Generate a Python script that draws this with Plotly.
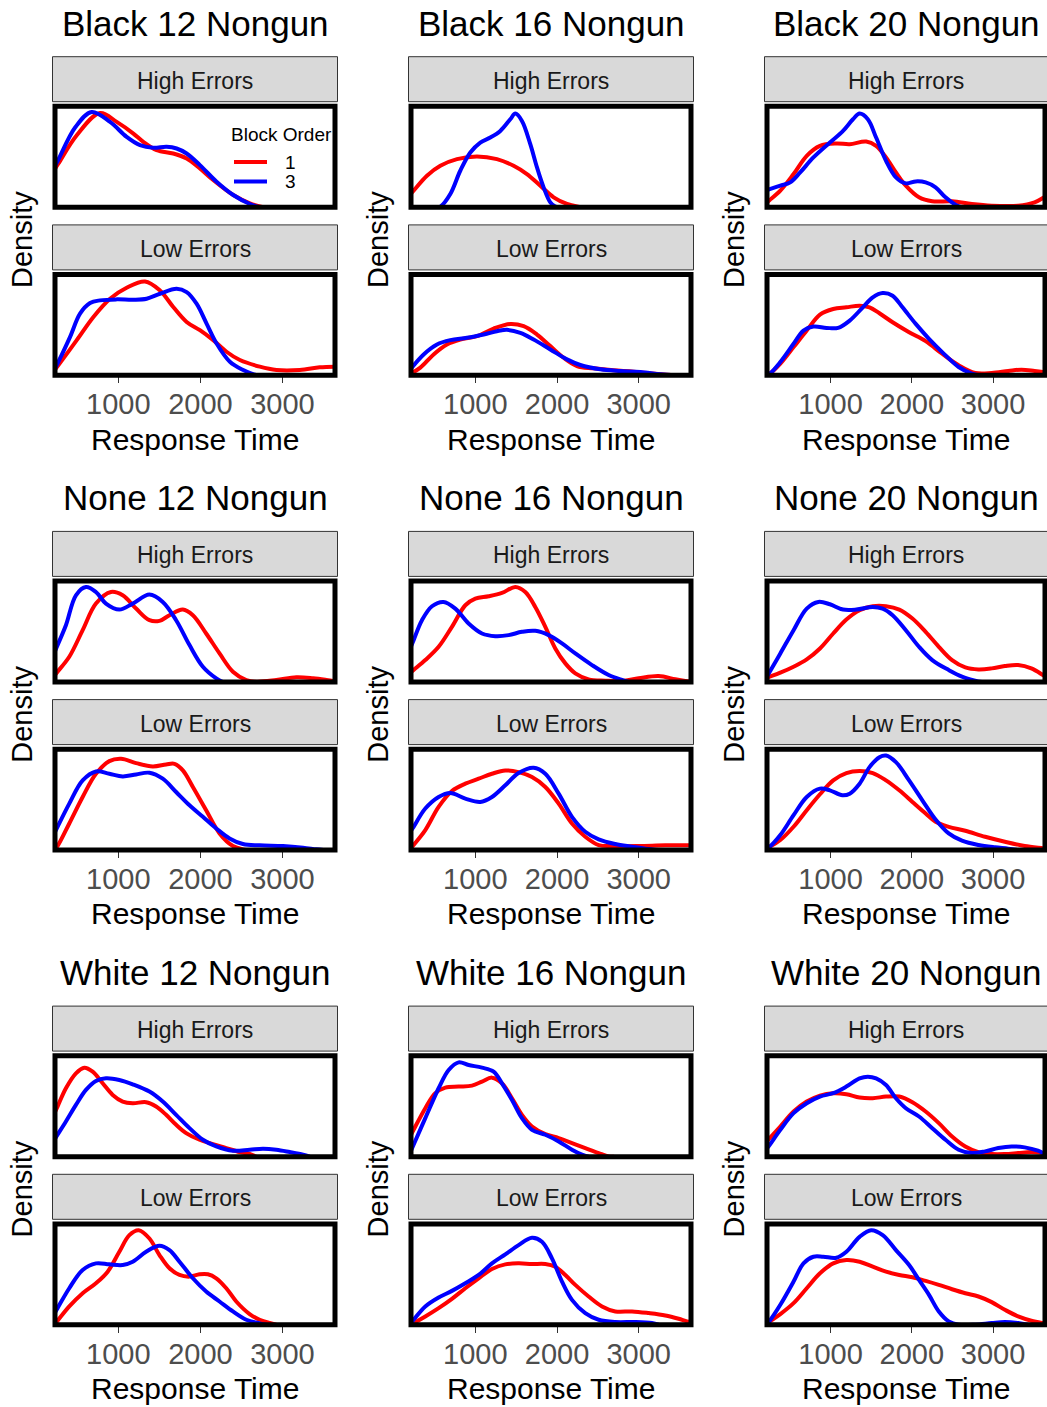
import plotly.graph_objects as go

# ---------------- data (response time in ms, relative density, arbitrary units) ----------------
RACES = ["Black", "None", "White"]
SIZES = [12, 16, 20]
FACETS = ["High Errors", "Low Errors"]
ORDERS = ["1", "3"]
TICK_VALS = [1000, 2000, 3000]
TICK_TEXT = ["1000", "2000", "3000"]
X_MIN = [228, 213, 218]      # per column (set size) x-axis lower limit
X_MAX = [3640, 3640, 3640]
Y_MAX = 304

# Black 12
B12_HI_1_RT = [235, 270, 493, 777, 980, 1183, 1304, 1467, 1669, 1832, 1994, 2156, 2400, 2603, 2765]
B12_HI_1_D = [119, 132, 217, 284, 257, 222, 197, 172, 162, 147, 117, 82, 37, 12, 0]
B12_HI_3_RT = [235, 270, 473, 675, 899, 1101, 1264, 1426, 1588, 1710, 1832, 1994, 2197, 2400, 2603, 2724]
B12_HI_3_D = [128, 144, 240, 287, 257, 212, 187, 179, 182, 177, 162, 127, 77, 37, 10, 0]
B12_LO_1_RT = [228, 270, 493, 696, 899, 1101, 1325, 1507, 1669, 1832, 1994, 2156, 2318, 2481, 2724, 2927, 3211, 3454, 3640]
B12_LO_1_D = [17, 31, 106, 176, 231, 264, 283, 256, 206, 161, 136, 106, 71, 46, 26, 16, 16, 24, 26]
B12_LO_3_RT = [228, 270, 412, 533, 655, 777, 980, 1183, 1345, 1507, 1710, 1832, 1953, 2075, 2197, 2359, 2521, 2684]
B12_LO_3_D = [20, 41, 116, 186, 218, 226, 229, 228, 231, 246, 261, 251, 216, 156, 96, 41, 16, 0]

# Black 16
B16_HI_1_RT = [212, 245, 408, 572, 776, 1020, 1265, 1469, 1632, 1796, 1959, 2122, 2204, 2285]
B16_HI_1_D = [41, 50, 95, 125, 145, 153, 145, 125, 100, 65, 30, 10, 5, 0]
B16_HI_3_RT = [212, 531, 572, 694, 816, 939, 1061, 1184, 1306, 1428, 1490, 1571, 1673, 1755, 1836, 1918, 1979, 2020]
B16_HI_3_D = [0, 0, 2, 40, 110, 165, 195, 210, 230, 265, 282, 260, 190, 120, 60, 15, 2, 0]
B16_LO_1_RT = [212, 327, 490, 653, 816, 1020, 1224, 1428, 1592, 1755, 1918, 2081, 2244, 2448, 2693, 2938, 3264, 3450]
B16_LO_1_D = [5, 23, 63, 93, 108, 118, 141, 155, 148, 123, 88, 53, 28, 21, 15, 11, 3, 0]
B16_LO_3_RT = [212, 368, 531, 694, 898, 1102, 1306, 1388, 1551, 1714, 1918, 2122, 2285, 2530, 2775, 3020, 3264, 3450]
B16_LO_3_D = [20, 63, 93, 106, 113, 123, 135, 137, 128, 108, 78, 48, 31, 18, 13, 10, 3, 0]

# Black 20
B20_HI_1_RT = [216, 252, 382, 545, 707, 870, 1073, 1236, 1439, 1561, 1683, 1805, 1927, 2089, 2252, 2496, 2740, 2984, 3309, 3512, 3614, 3640]
B20_HI_1_D = [15, 22, 50, 100, 155, 185, 192, 190, 198, 185, 150, 105, 65, 30, 18, 18, 10, 5, 5, 15, 28, 32]
B20_HI_3_RT = [216, 252, 382, 504, 626, 789, 992, 1154, 1276, 1358, 1459, 1561, 1683, 1805, 1927, 2049, 2171, 2293, 2415, 2537, 2618]
B20_HI_3_D = [52, 55, 65, 75, 105, 150, 195, 230, 265, 282, 265, 210, 140, 90, 72, 78, 75, 60, 30, 8, 0]
B20_LO_1_RT = [216, 252, 382, 545, 707, 870, 1033, 1195, 1358, 1480, 1602, 1764, 1967, 2171, 2374, 2577, 2781, 2984, 3187, 3350, 3512, 3640]
B20_LO_1_D = [2, 5, 35, 85, 135, 183, 200, 205, 210, 205, 187, 160, 130, 103, 65, 30, 7, 7, 13, 17, 13, 9]
B20_LO_3_RT = [216, 252, 382, 545, 667, 789, 951, 1093, 1236, 1398, 1520, 1642, 1764, 1886, 2049, 2212, 2374, 2577, 2740, 2821]
B20_LO_3_D = [2, 5, 40, 95, 135, 147, 143, 143, 165, 205, 235, 248, 240, 205, 155, 110, 70, 25, 5, 0]

# None 12
N12_HI_1_RT = [221, 259, 402, 565, 727, 910, 1053, 1216, 1379, 1501, 1623, 1786, 1908, 2070, 2233, 2396, 2559, 2681, 2925, 3169, 3373, 3536, 3640]
N12_HI_1_D = [19, 31, 76, 156, 236, 271, 261, 221, 186, 184, 201, 218, 201, 146, 86, 31, 6, 1, 6, 14, 11, 6, 2]
N12_HI_3_RT = [221, 259, 361, 483, 605, 727, 849, 1012, 1175, 1379, 1541, 1704, 1867, 2030, 2193, 2274]
N12_HI_3_D = [89, 111, 171, 261, 286, 271, 236, 218, 236, 263, 241, 186, 111, 46, 11, 0]
N12_LO_1_RT = [221, 259, 402, 565, 727, 890, 1033, 1216, 1419, 1582, 1684, 1786, 1908, 2070, 2233, 2396, 2518, 2600]
N12_LO_1_D = [2, 12, 80, 160, 230, 268, 275, 262, 252, 258, 260, 240, 190, 120, 50, 12, 2, 0]
N12_LO_3_RT = [221, 259, 402, 565, 727, 890, 1053, 1216, 1379, 1541, 1704, 1867, 2030, 2193, 2355, 2518, 2722, 3006, 3251, 3414, 3500]
N12_LO_3_D = [51, 70, 140, 210, 237, 230, 222, 228, 233, 215, 175, 135, 100, 65, 35, 18, 14, 12, 7, 2, 0]

# None 16
N16_HI_1_RT = [213, 245, 388, 551, 714, 878, 1000, 1163, 1326, 1490, 1612, 1734, 1857, 1979, 2102, 2224, 2387, 2591, 2795, 2999, 3244, 3448, 3570, 3640]
N16_HI_1_D = [29, 36, 66, 106, 166, 231, 251, 258, 268, 286, 271, 226, 166, 101, 56, 26, 8, 4, 3, 11, 18, 8, 3, 1]
N16_HI_3_RT = [213, 245, 347, 470, 612, 755, 918, 1082, 1245, 1408, 1571, 1734, 1898, 2061, 2224, 2428, 2632, 2795, 2877]
N16_HI_3_D = [107, 126, 186, 228, 241, 221, 176, 146, 138, 141, 151, 154, 141, 116, 86, 51, 21, 6, 0]
N16_LO_1_RT = [213, 245, 388, 551, 714, 878, 1041, 1204, 1367, 1530, 1694, 1857, 2020, 2183, 2346, 2510, 2673, 2999, 3326, 3640]
N16_LO_1_D = [5, 15, 60, 130, 178, 200, 215, 230, 240, 235, 220, 190, 140, 80, 40, 15, 12, 12, 14, 14]
N16_LO_3_RT = [213, 245, 388, 551, 694, 878, 1061, 1204, 1367, 1530, 1714, 1857, 2020, 2183, 2346, 2510, 2714, 2918, 3081, 3244]
N16_LO_3_D = [58, 70, 125, 160, 172, 155, 145, 160, 195, 232, 248, 230, 170, 100, 55, 32, 18, 10, 4, 0]

# None 20
N20_HI_1_RT = [218, 252, 382, 545, 707, 870, 1033, 1195, 1358, 1520, 1683, 1846, 2008, 2171, 2333, 2496, 2659, 2821, 2984, 3146, 3309, 3472, 3614, 3640]
N20_HI_1_D = [13, 16, 28, 46, 68, 101, 146, 188, 216, 228, 228, 218, 191, 151, 106, 66, 44, 38, 41, 48, 51, 41, 21, 17]
N20_HI_3_RT = [218, 252, 382, 545, 707, 850, 992, 1154, 1317, 1520, 1642, 1764, 1927, 2089, 2252, 2455, 2618, 2780, 2862]
N20_HI_3_D = [17, 31, 86, 156, 221, 241, 234, 218, 218, 226, 221, 201, 156, 106, 66, 36, 16, 4, 0]
N20_LO_1_RT = [218, 252, 382, 545, 707, 870, 1033, 1195, 1358, 1520, 1683, 1846, 2008, 2171, 2293, 2455, 2659, 2903, 3146, 3390, 3614, 3640]
N20_LO_1_D = [7, 10, 30, 70, 120, 168, 210, 232, 238, 232, 210, 180, 145, 110, 85, 70, 58, 40, 25, 12, 5, 4]
N20_LO_3_RT = [218, 252, 382, 545, 707, 870, 992, 1146, 1236, 1358, 1480, 1602, 1683, 1805, 1967, 2130, 2293, 2455, 2618, 2821, 3024, 3187, 3309]
N20_LO_3_D = [5, 10, 45, 105, 160, 185, 180, 165, 170, 200, 250, 280, 285, 265, 210, 150, 92, 50, 28, 15, 8, 4, 0]

# White 12
W12_HI_1_RT = [221, 259, 361, 483, 585, 687, 809, 931, 1053, 1175, 1338, 1460, 1582, 1704, 1826, 1989, 2152, 2315, 2477, 2600, 2681]
W12_HI_1_D = [131, 151, 206, 251, 268, 256, 221, 186, 166, 161, 164, 151, 126, 96, 71, 51, 38, 26, 14, 8, 0]
W12_HI_3_RT = [221, 259, 361, 483, 605, 727, 849, 1012, 1175, 1379, 1541, 1704, 1867, 2030, 2193, 2396, 2600, 2762, 2925, 3088, 3251, 3332]
W12_HI_3_D = [51, 66, 106, 156, 201, 228, 236, 231, 218, 196, 166, 126, 86, 51, 31, 18, 21, 24, 21, 14, 6, 0]
W12_LO_1_RT = [221, 259, 402, 565, 727, 870, 1012, 1134, 1248, 1379, 1501, 1623, 1745, 1867, 1989, 2091, 2193, 2315, 2437, 2600, 2722, 2843, 2925]
W12_LO_1_D = [1, 12, 55, 95, 125, 160, 220, 270, 285, 260, 210, 170, 150, 145, 152, 152, 140, 110, 70, 32, 15, 5, 0]
W12_LO_3_RT = [221, 259, 402, 565, 727, 890, 1053, 1175, 1338, 1501, 1623, 1745, 1908, 2070, 2233, 2396, 2559, 2722, 2803]
W12_LO_3_D = [34, 50, 110, 165, 185, 182, 180, 190, 220, 238, 225, 190, 140, 100, 70, 40, 15, 4, 0]

# White 16
W16_HI_1_RT = [213, 245, 388, 510, 633, 796, 959, 1082, 1204, 1326, 1449, 1571, 1694, 1857, 2020, 2183, 2346, 2510, 2632, 2700]
W16_HI_1_D = [66, 81, 146, 191, 208, 211, 214, 226, 238, 221, 176, 126, 91, 68, 56, 41, 26, 11, 1, 0]
W16_HI_3_RT = [213, 245, 388, 551, 674, 796, 918, 1082, 1224, 1326, 1449, 1571, 1694, 1857, 2020, 2183, 2306, 2387]
W16_HI_3_D = [18, 36, 116, 206, 261, 284, 276, 268, 256, 221, 171, 116, 81, 66, 46, 21, 6, 0]
W16_LO_1_RT = [213, 245, 388, 551, 714, 878, 1041, 1204, 1367, 1530, 1694, 1857, 1979, 2102, 2224, 2387, 2551, 2714, 2918, 3122, 3326, 3489, 3591, 3640]
W16_LO_1_D = [1, 5, 25, 50, 78, 110, 140, 168, 182, 185, 183, 183, 175, 150, 120, 85, 55, 40, 40, 35, 28, 18, 10, 8]
W16_LO_3_RT = [213, 245, 388, 551, 714, 878, 1041, 1204, 1367, 1530, 1694, 1816, 1938, 2061, 2183, 2346, 2510, 2714, 2958, 3162, 3244]
W16_LO_3_D = [6, 15, 55, 82, 102, 125, 150, 185, 212, 240, 262, 250, 200, 130, 75, 35, 15, 8, 8, 5, 0]

# White 20
W20_HI_1_RT = [218, 252, 382, 545, 707, 870, 1033, 1195, 1358, 1520, 1683, 1846, 2008, 2171, 2333, 2496, 2659, 2821, 2984, 3146, 3309, 3472, 3614, 3640]
W20_HI_1_D = [47, 56, 91, 136, 166, 184, 191, 188, 178, 176, 181, 181, 164, 136, 101, 61, 31, 14, 8, 8, 11, 14, 11, 10]
W20_HI_3_RT = [218, 252, 382, 545, 707, 870, 1033, 1195, 1358, 1459, 1561, 1683, 1805, 1927, 2089, 2252, 2415, 2577, 2740, 2903, 3065, 3228, 3390, 3553, 3614, 3640]
W20_HI_3_D = [25, 36, 81, 131, 161, 181, 191, 211, 236, 241, 236, 216, 176, 146, 121, 86, 51, 21, 11, 16, 26, 31, 28, 18, 11, 8]
W20_LO_1_RT = [218, 252, 382, 545, 707, 870, 1033, 1195, 1358, 1520, 1683, 1846, 2008, 2171, 2333, 2496, 2659, 2821, 2984, 3146, 3309, 3472, 3614, 3640]
W20_LO_1_D = [4, 10, 32, 65, 110, 155, 185, 195, 190, 175, 160, 150, 143, 132, 120, 107, 95, 85, 68, 45, 25, 12, 5, 4]
W20_LO_3_RT = [218, 252, 382, 545, 667, 789, 911, 1073, 1195, 1358, 1500, 1642, 1805, 1967, 2089, 2212, 2333, 2455, 2577, 2780, 2984, 3146, 3309, 3431]
W20_LO_3_D = [2, 12, 60, 130, 185, 205, 205, 202, 220, 265, 285, 270, 225, 180, 135, 90, 40, 10, 0, 0, 5, 8, 5, 0]

CURVES = {}
for _race, _pre in zip(RACES, ["B", "N", "W"]):
    for _size in SIZES:
        for _facet, _fk in zip(FACETS, ["HI", "LO"]):
            for _order in ORDERS:
                _name = f"{_pre}{_size}_{_fk}_{_order}"
                CURVES[(_race, _size, _facet, _order)] = (globals()[_name + "_RT"], globals()[_name + "_D"])

# ---------------- layout geometry ----------------
W, H = 1047, 1407
FONT = "Liberation Sans, Arial, sans-serif"
COLORS = {"1": "#FF0000", "3": "#0000FF"}
COL_X0 = [55, 411, 767]
COL_X1 = [335, 691, 1045]
ROW_OFF = [0, 474.7, 949.4]
PAN_TOP = [106.3, 274.5]
PAN_BOT = [207.3, 375.3]

def px(v):
    return v / W

def py(v):
    return 1 - v / H

fig = go.Figure()
layout = dict(
    width=W, height=H, autosize=False,
    margin=dict(l=0, r=0, t=0, b=0),
    paper_bgcolor="white", plot_bgcolor="white",
    font=dict(family=FONT, color="black"),
    showlegend=False,
)
shapes = []
annotations = []

k = 0
for r, race in enumerate(RACES):
    off = ROW_OFF[r]
    for c, size in enumerate(SIZES):
        cx = (COL_X0[c] + COL_X1[c]) / 2
        for f, facet in enumerate(FACETS):
            k += 1
            top = PAN_TOP[f] + off
            bot = PAN_BOT[f] + off
            xa = "xaxis" if k == 1 else f"xaxis{k}"
            ya = "yaxis" if k == 1 else f"yaxis{k}"
            xr = "x" if k == 1 else f"x{k}"
            yr = "y" if k == 1 else f"y{k}"
            is_low = f == 1
            layout[xa] = dict(
                domain=[px(COL_X0[c]), px(COL_X1[c])],
                range=[X_MIN[c], X_MAX[c]],
                anchor=yr, showgrid=False, zeroline=False, showline=False,
                tickvals=TICK_VALS, ticktext=TICK_TEXT,
                showticklabels=is_low,
                ticks="outside" if is_low else "",
                ticklen=7, tickwidth=1.2, tickcolor="#333333",
                ticklabelstandoff=-4,
                tickfont=dict(size=29, color="#4D4D4D", family=FONT),
                fixedrange=True,
            )
            layout[ya] = dict(
                domain=[py(bot), py(top)],
                range=[0, Y_MAX], anchor=xr,
                showgrid=False, zeroline=False, showline=False,
                showticklabels=False, ticks="", fixedrange=True,
            )
            for order in ORDERS:
                xs, ys = CURVES[(race, size, facet, order)]
                fig.add_trace(go.Scatter(
                    x=xs, y=ys, xaxis=xr, yaxis=yr, mode="lines",
                    line=dict(color=COLORS[order], width=4, shape="spline", smoothing=1.0),
                    name=order, legendgroup=order,
                    showlegend=False, hoverinfo="skip",
                ))
            # strip
            shapes.append(dict(
                type="rect", xref="paper", yref="paper", layer="below",
                x0=px(COL_X0[c] - 2.5), x1=px(COL_X1[c] + 2.5),
                y0=py(top - 4.6), y1=py(top - 49.6),
                fillcolor="#D9D9D9", line=dict(color="#333333", width=1),
            ))
            annotations.append(dict(
                text=facet, xref="paper", yref="paper",
                x=px(cx), y=py(top - 25.5), xanchor="center", yanchor="middle",
                showarrow=False, font=dict(size=23, color="#1A1A1A", family=FONT),
            ))
            # panel border
            shapes.append(dict(
                type="rect", xref="paper", yref="paper", layer="above",
                x0=px(COL_X0[c]), x1=px(COL_X1[c]), y0=py(bot), y1=py(top),
                line=dict(color="black", width=5), fillcolor="rgba(0,0,0,0)",
            ))
        # plot title
        annotations.append(dict(
            text=f"{race} {size} Nongun", xref="paper", yref="paper",
            x=px(cx), y=py(23 + off), xanchor="center", yanchor="middle",
            showarrow=False, font=dict(size=35, color="black", family=FONT),
        ))
        # x axis title
        annotations.append(dict(
            text="Response Time", xref="paper", yref="paper",
            x=px(cx), y=py(439 + off), xanchor="center", yanchor="middle",
            showarrow=False, font=dict(size=30, color="black", family=FONT),
        ))
        # y axis title
        annotations.append(dict(
            text="Density", xref="paper", yref="paper",
            x=px(COL_X0[c] - 33), y=py(240 + off), xanchor="center", yanchor="middle",
            textangle=-90, showarrow=False,
            font=dict(size=29, color="black", family=FONT),
        ))

# ---------------- legend (Block Order) inside the first panel ----------------
LEG_X0, LEG_X1, LEG_TXT = 234, 267, 283
LEG_Y = {"1": 162, "3": 181.5}
annotations.append(dict(
    text="Block Order", xref="paper", yref="paper",
    x=px(229), y=py(135), xanchor="left", yanchor="middle",
    showarrow=False, font=dict(size=19, color="black", family=FONT),
))
for order in ORDERS:
    shapes.append(dict(
        type="line", xref="paper", yref="paper", layer="above",
        x0=px(LEG_X0), x1=px(LEG_X1), y0=py(LEG_Y[order]), y1=py(LEG_Y[order]),
        line=dict(color=COLORS[order], width=4),
    ))
    annotations.append(dict(
        text=order, xref="paper", yref="paper",
        x=px(LEG_TXT), y=py(LEG_Y[order]), xanchor="left", yanchor="middle",
        showarrow=False, font=dict(size=19, color="black", family=FONT),
    ))

layout["shapes"] = shapes
layout["annotations"] = annotations
fig.update_layout(**layout)
fig.write_html("out.html")
